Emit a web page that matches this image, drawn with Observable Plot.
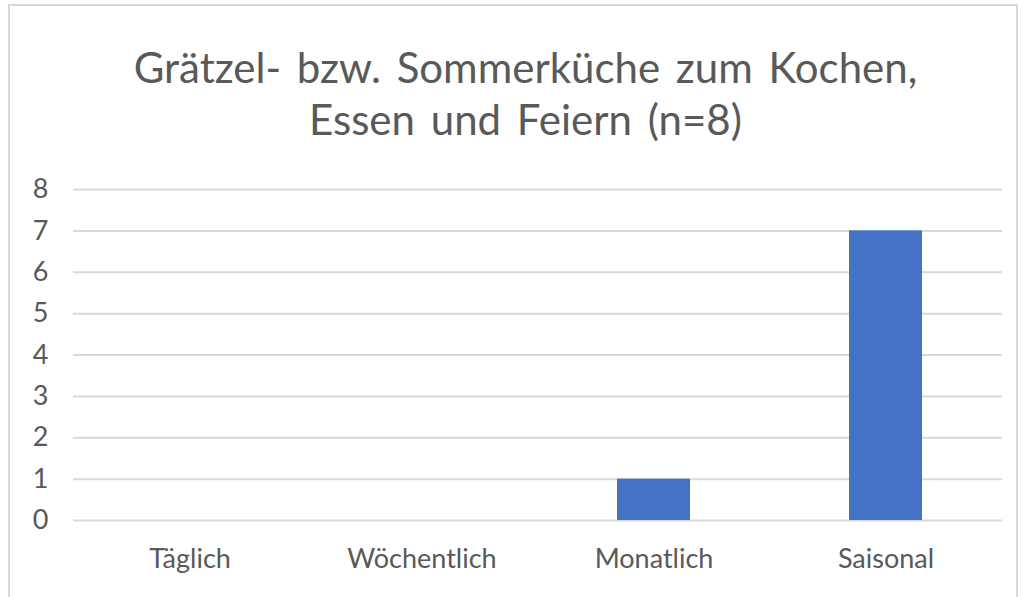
<!DOCTYPE html>
<html>
<head>
<meta charset="utf-8">
<script src="https://cdn.jsdelivr.net/npm/d3@7"></script>
<script src="https://cdn.jsdelivr.net/npm/@observablehq/plot@0.6"></script>
<style>
  html, body { margin: 0; padding: 0; background: #fff; }
  #wrap { position: relative; width: 1027px; height: 597px; overflow: hidden; font-family: Lato, "Open Sans", sans-serif; }
  #frame { position: absolute; left: 8px; top: 4px; width: 1010px; height: 620px; border: 2px solid #d9d9d9; box-sizing: border-box; }
  #title { position: absolute; left: 12px; width: 1027px; top: 41px; text-align: center; color: #595959; font-size: 42px; line-height: 52px; word-spacing: 5px; }
  #chart { position: absolute; left: 0; top: 160px; }
</style>
</head>
<body>
<div id="wrap">
  <div id="frame"></div>
  <div id="title">Grätzel- bzw. Sommerküche zum Kochen,<br>Essen und Feiern (n=8)</div>
  <div id="chart"></div>
</div>
<script>
const categories = ["Täglich", "Wöchentlich", "Monatlich", "Saisonal"];
const counts = [0, 0, 1, 7];
const yTicks = [0, 1, 2, 3, 4, 5, 6, 7, 8];

const data = categories.map((c, i) => ({category: c, count: counts[i]}));

const plot = Plot.plot({
  width: 1027,
  height: 437,
  marginLeft: 73,
  marginRight: 25,
  marginTop: 29,
  marginBottom: 77,
  style: {fontFamily: "Lato, 'Open Sans', sans-serif", fontSize: "27px", color: "#595959", background: "transparent"},
  x: {domain: categories, paddingInner: 0.685, paddingOuter: 0.3425, label: null, tickSize: 0, tickPadding: 28},
  y: {domain: [0, 8], ticks: yTicks, label: null, tickSize: 0, tickPadding: 25, grid: false},
  marks: [
    Plot.ruleY(yTicks, {stroke: "#d9d9d9", strokeWidth: 2, strokeOpacity: 1}),
    Plot.barY(data, {x: "category", y: "count", fill: "#4472c4"})
  ]
});
document.getElementById("chart").appendChild(plot);
</script>
</body>
</html>
